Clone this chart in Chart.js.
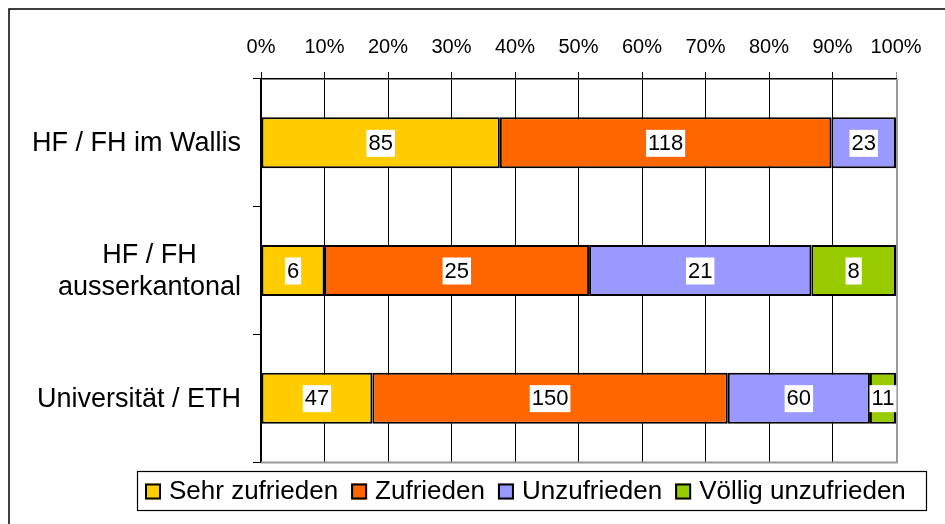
<!DOCTYPE html>
<html lang="de">
<head>
<meta charset="utf-8">
<title>Zufriedenheit nach Hochschultyp</title>
<script src="https://cdn.jsdelivr.net/npm/chart.js@4/dist/chart.umd.min.js"></script>
<style>
  html, body { margin: 0; padding: 0; background: #fff; }
  #wrap { position: relative; width: 945px; height: 524px; }
</style>
</head>
<body>
<div id="wrap"><canvas id="zufriedenChart" width="945" height="524"></canvas></div>
<script>
// Hochschultypen
const categories = ['HF / FH im Wallis', ['HF / FH', 'ausserkantonal'], 'Universität / ETH'];

// Anzahl Antworten je Kategorie
const sehrZufrieden = [85, 6, 47];
const zufrieden = [118, 25, 150];
const unzufrieden = [23, 21, 60];
const voelligUnzufrieden = [0, 8, 11];

const seriesNames = ['Sehr zufrieden', 'Zufrieden', 'Unzufrieden', 'Völlig unzufrieden'];
const seriesColors = ['#FFCC00', '#FF6600', '#9999FF', '#99CC00'];
const tickLabels = ['0%', '10%', '20%', '30%', '40%', '50%', '60%', '70%', '80%', '90%', '100%'];

const FONT = '"Liberation Sans", Arial, sans-serif';
const counts = [sehrZufrieden, zufrieden, unzufrieden, voelligUnzufrieden];
const totals = categories.map((c, i) => counts.reduce((s, arr) => s + arr[i], 0));

const datasets = counts.map((arr, k) => ({
    label: seriesNames[k],
    data: arr.map((v, i) => v / totals[i] * 100),
    counts: arr,
    backgroundColor: seriesColors[k],
    borderColor: '#000',
    borderWidth: 2,
    borderSkipped: false,
    barPercentage: 0.4,
    categoryPercentage: 1.0
}));

// Rahmen, graue Kanten der Zeichenfläche, Kategorien, Werte und Legende
const decorations = {
    id: 'decorations',
    beforeDraw(chart) {
        const c = chart.ctx;
        c.save();
        c.strokeStyle = '#000';
        c.lineWidth = 1.5;
        c.strokeRect(9, 9, 1000, 1000);
        c.restore();
    },
    beforeDatasetsDraw(chart) {
        const c = chart.ctx, a = chart.chartArea;
        c.save();
        c.strokeStyle = '#999';
        c.lineWidth = 2;
        c.beginPath();
        c.moveTo(a.left, a.bottom + 0.5);
        c.lineTo(a.right + 1, a.bottom + 0.5);
        c.lineTo(a.right + 1, a.top);
        c.stroke();
        c.restore();
    },
    afterDatasetsDraw(chart) {
        const c = chart.ctx;
        c.save();
        c.font = '22px ' + FONT;
        c.textAlign = 'center';
        c.textBaseline = 'middle';
        chart.data.datasets.forEach((ds, k) => {
            chart.getDatasetMeta(k).data.forEach((bar, i) => {
                const n = ds.counts[i];
                if (!n) return;
                const txt = String(n);
                const cx = (bar.x + bar.base) / 2;
                const w = c.measureText(txt).width + 4;
                c.fillStyle = '#fff';
                c.fillRect(cx - w / 2, bar.y - 13, w, 27);
                c.fillStyle = '#000';
                c.fillText(txt, cx, bar.y + 1);
            });
        });
        c.restore();
    },
    afterDraw(chart) {
        const c = chart.ctx;
        const y = chart.scales.y;
        c.save();
        // Kategorienbeschriftung
        c.font = '27px ' + FONT;
        c.fillStyle = '#000';
        c.textAlign = 'center';
        c.textBaseline = 'middle';
        categories.forEach((lab, i) => {
            const lines = Array.isArray(lab) ? lab : [lab];
            const maxW = Math.max(...lines.map(l => c.measureText(l).width));
            const cx = 241 - maxW / 2;
            const cy = y.getPixelForValue(i);
            const lh = 32;
            lines.forEach((l, j) => {
                c.fillText(l, cx, cy + (j - (lines.length - 1) / 2) * lh + 1);
            });
        });

        // Legende
        const box = { x: 137, y: 471, w: 789, h: 39 };
        c.fillStyle = '#fff';
        c.fillRect(box.x, box.y, box.w, box.h);
        c.strokeStyle = '#000';
        c.lineWidth = 1.2;
        c.strokeRect(box.x + 0.5, box.y + 0.5, box.w, box.h);
        c.font = '26px ' + FONT;
        c.textAlign = 'left';
        let x = 145;
        const my = box.y + box.h / 2 + 1;
        chart.data.datasets.forEach(ds => {
            c.fillStyle = ds.backgroundColor;
            c.fillRect(x, my - 8, 16, 16);
            c.strokeStyle = '#000';
            c.lineWidth = 2;
            c.strokeRect(x + 1, my - 7, 14, 14);
            x += 24;
            c.fillStyle = '#000';
            c.fillText(ds.label, x, my);
            x += c.measureText(ds.label).width + 13;
        });
        c.restore();
    }
};

new Chart(document.getElementById('zufriedenChart'), {
    type: 'bar',
    data: { labels: categories, datasets: datasets },
    options: {
        indexAxis: 'y',
        responsive: false,
        animation: false,
        layout: { padding: { top: 0, left: 0, right: 49, bottom: 62 } },
        plugins: {
            legend: { display: false },
            tooltip: { enabled: false }
        },
        scales: {
            x: {
                position: 'top',
                stacked: true,
                min: 0,
                max: 100,
                afterFit(scale) { scale.height = 79; },
                ticks: {
                    stepSize: 10,
                    padding: 13,
                    color: '#000',
                    font: { family: FONT, size: 20 },
                    callback: (v, i) => tickLabels[i]
                },
                grid: {
                    color: ctx => ctx.index === 10 ? '#999' : '#000',
                    lineWidth: 1,
                    tickLength: 7
                },
                border: { color: '#000', width: 1.5 }
            },
            y: {
                stacked: true,
                afterFit(scale) { scale.width = 261; },
                ticks: { display: false },
                grid: {
                    offset: true,
                    drawOnChartArea: false,
                    color: '#000',
                    tickLength: 8
                },
                border: { color: '#000', width: 1.5 }
            }
        }
    },
    plugins: [decorations]
});
</script>
</body>
</html>
